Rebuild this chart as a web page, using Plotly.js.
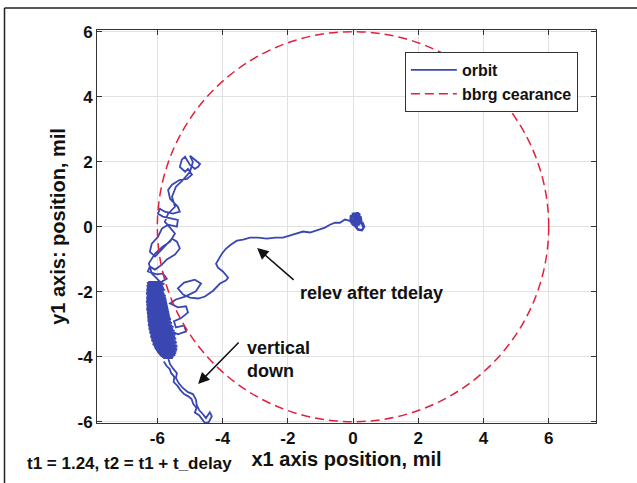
<!DOCTYPE html>
<html>
<head>
<meta charset="utf-8">
<script src="https://cdn.plot.ly/plotly-3.0.1.min.js"></script>
<style>
  html, body { margin: 0; padding: 0; background: #ffffff; }
  #chart { width: 637px; height: 483px; }
</style>
</head>
<body>
<div id="chart"></div>
<script>
// ---- data (x1, y1 positions in mil) ----
const centerPts = [[-0.04,0.40],[0.16,0.42],[0.22,0.36],[-0.07,0.34],[-0.08,0.28],[0.24,0.30],[0.25,0.24],[-0.08,0.22],[-0.07,0.16],[0.24,0.18],[0.22,0.12],[-0.05,0.10],[0.00,0.05],[0.18,0.06],[0.00,0.35],[0.12,0.42],[0.22,0.30],[0.18,0.10],[0.02,0.05],[-0.08,0.20],[0.00,0.40],[0.15,0.38],[0.24,0.20],[0.10,0.04],[-0.05,0.12],[0.05,0.30],[0.20,0.36],[0.20,0.12],[0.05,0.15],[0.10,0.30],[0.25,0.25],[0.28,0.05],[0.32,-0.05],[0.25,-0.10],[0.12,-0.06],[0.15,0.08],[0.30,0.12],[0.35,0.00],[0.28,-0.12],[0.15,-0.10],[0.05,0.02],[-0.10,0.18]];
const tailPts = [[-0.25,0.22],[-0.40,0.12],[-0.55,0.12],[-0.71,0.06],[-0.86,-0.03],[-1.07,-0.09],[-1.32,-0.18],[-1.53,-0.15],[-1.75,-0.22],[-1.96,-0.28],[-2.15,-0.34],[-2.39,-0.34],[-2.64,-0.37],[-2.91,-0.34],[-3.16,-0.34],[-3.37,-0.40],[-3.56,-0.43],[-3.74,-0.55],[-3.90,-0.68],[-4.02,-0.83],[-4.11,-0.98],[-4.20,-1.14],[-4.14,-1.26],[-3.99,-1.38],[-3.83,-1.57],[-3.90,-1.66],[-4.08,-1.75],[-4.29,-1.97]];
const loopPts = [[-4.54,-2.15],[-4.75,-2.21],[-5.00,-2.18],[-5.21,-2.09],[-5.37,-1.90],[-5.18,-1.72],[-4.85,-1.63],[-4.66,-1.75],[-4.82,-1.99],[-5.15,-2.15],[-5.43,-2.24],[-5.61,-2.36]];
const sideLoopPts = [[-5.37,-2.48],[-5.12,-2.45],[-5.06,-2.64],[-5.28,-2.82],[-5.49,-2.91],[-5.43,-3.10],[-5.18,-3.04],[-5.12,-3.22],[-5.37,-3.31],[-5.55,-3.22],[-5.67,-2.61],[-5.77,-2.15],[-5.92,-1.84]];
const upPts = [[-5.92,-1.69],[-6.17,-1.44],[-6.26,-1.13],[-6.07,-0.83],[-5.83,-0.61],[-5.61,-0.46],[-5.46,-0.21],[-5.61,-0.03],[-5.77,0.15],[-5.67,0.40],[-5.46,0.61],[-5.55,0.92],[-5.43,1.23],[-5.21,1.44],[-5.00,1.69],[-4.91,1.99],[-5.00,2.18]];
const downPts = [[-4.69,1.93],[-4.75,1.84],[-4.85,1.78],[-5.00,1.90],[-5.15,2.15],[-5.25,2.06],[-5.31,1.84],[-5.15,1.69],[-5.06,1.78],[-4.94,1.60],[-5.09,1.47],[-5.31,1.44],[-5.55,1.29],[-5.67,1.13],[-5.61,0.86],[-5.46,0.71],[-5.37,0.61],[-5.31,0.46],[-5.52,0.40],[-5.77,0.46],[-5.92,0.55],[-5.98,0.40],[-5.83,0.31],[-5.55,0.25],[-5.37,0.21],[-5.40,0.00],[-5.67,0.06],[-5.86,-0.06],[-5.98,-0.31],[-6.17,-0.52],[-6.23,-0.77],[-6.07,-0.92],[-5.92,-0.77],[-5.71,-0.55],[-5.55,-0.37],[-5.40,-0.46],[-5.31,-0.67],[-5.46,-0.86],[-5.71,-1.01],[-5.86,-1.17],[-6.07,-1.32],[-6.23,-1.23],[-6.29,-1.38],[-6.01,-1.47],[-5.83,-1.44],[-5.71,-1.60],[-5.86,-1.69]];
const clusterDownPts = [[-6.28,-1.70],[-5.82,-1.70],[-6.31,-1.76],[-5.78,-1.76],[-6.33,-1.82],[-5.85,-1.82],[-6.30,-1.88],[-5.80,-1.88],[-6.34,-1.94],[-5.76,-1.94],[-6.32,-2.00],[-5.82,-2.00],[-6.35,-2.06],[-5.78,-2.06],[-6.31,-2.12],[-5.74,-2.12],[-6.34,-2.18],[-5.80,-2.18],[-6.32,-2.24],[-5.72,-2.24],[-6.35,-2.30],[-5.77,-2.30],[-6.30,-2.36],[-5.70,-2.36],[-6.33,-2.42],[-5.74,-2.42],[-6.31,-2.48],[-5.68,-2.48],[-6.34,-2.54],[-5.72,-2.54],[-6.30,-2.60],[-5.66,-2.60],[-6.32,-2.66],[-5.70,-2.66],[-6.29,-2.72],[-5.62,-2.72],[-6.31,-2.78],[-5.66,-2.78],[-6.28,-2.84],[-5.58,-2.84],[-6.30,-2.90],[-5.62,-2.90],[-6.27,-2.96],[-5.55,-2.96],[-6.29,-3.02],[-5.58,-3.02],[-6.25,-3.08],[-5.50,-3.08],[-6.27,-3.14],[-5.55,-3.14],[-6.23,-3.20],[-5.47,-3.20],[-6.25,-3.26],[-5.52,-3.26],[-6.20,-3.32],[-5.44,-3.32],[-6.22,-3.38],[-5.48,-3.38],[-6.17,-3.44],[-5.42,-3.44],[-6.19,-3.50],[-5.46,-3.50],[-6.13,-3.56],[-5.40,-3.56],[-6.15,-3.62],[-5.44,-3.62],[-6.10,-3.68],[-5.38,-3.68],[-6.08,-3.74],[-5.42,-3.74],[-6.04,-3.80],[-5.40,-3.80],[-6.00,-3.86],[-5.44,-3.86],[-5.95,-3.92],[-5.46,-3.92],[-5.90,-3.98],[-5.50,-3.98],[-5.82,-4.04],[-5.55,-4.04]];
const clusterUpPts = [[-5.52,-4.01],[-5.86,-4.01],[-5.45,-3.95],[-5.93,-3.95],[-5.42,-3.89],[-5.98,-3.89],[-5.41,-3.83],[-6.02,-3.83],[-5.39,-3.77],[-6.06,-3.77],[-5.41,-3.71],[-6.09,-3.71],[-5.40,-3.65],[-6.12,-3.65],[-5.42,-3.59],[-6.14,-3.59],[-5.43,-3.53],[-6.16,-3.53],[-5.44,-3.47],[-6.18,-3.47],[-5.45,-3.41],[-6.20,-3.41],[-5.46,-3.35],[-6.21,-3.35],[-5.48,-3.29],[-6.22,-3.29],[-5.50,-3.23],[-6.24,-3.23],[-5.51,-3.17],[-6.26,-3.17],[-5.52,-3.11],[-6.26,-3.11],[-5.54,-3.05],[-6.28,-3.05],[-5.56,-2.99],[-6.28,-2.99],[-5.59,-2.93],[-6.29,-2.93],[-5.60,-2.87],[-6.30,-2.87],[-5.63,-2.81],[-6.30,-2.81],[-5.64,-2.75],[-6.31,-2.75],[-5.67,-2.69],[-6.31,-2.69],[-5.68,-2.63],[-6.32,-2.63],[-5.70,-2.57],[-6.33,-2.57],[-5.71,-2.51],[-6.33,-2.51],[-5.72,-2.45],[-6.33,-2.45],[-5.73,-2.39],[-6.34,-2.39],[-5.74,-2.33],[-6.34,-2.33],[-5.75,-2.27],[-6.33,-2.27],[-5.77,-2.21],[-6.34,-2.21],[-5.78,-2.15],[-6.33,-2.15],[-5.79,-2.09],[-6.33,-2.09],[-5.80,-2.03],[-6.34,-2.03],[-5.80,-1.97],[-6.33,-1.97],[-5.81,-1.91],[-6.32,-1.91],[-5.82,-1.85],[-6.32,-1.85],[-5.82,-1.79],[-6.31,-1.79],[-5.84,-1.73],[-6.29,-1.73]];
const lowerPts = [[-5.65,-4.10],[-5.61,-4.23],[-5.52,-4.36],[-5.40,-4.51],[-5.43,-4.66],[-5.34,-4.82],[-5.21,-4.97],[-5.06,-5.09],[-4.91,-5.15],[-4.82,-5.31],[-4.79,-5.49],[-4.72,-5.64],[-4.60,-5.77],[-4.51,-5.89],[-4.39,-5.71],[-4.33,-5.83],[-4.42,-6.01],[-4.54,-6.04],[-4.63,-5.92],[-4.72,-5.80],[-4.85,-5.72],[-4.80,-5.58],[-4.90,-5.45],[-4.95,-5.30],[-5.05,-5.22],[-5.18,-5.15],[-5.30,-5.02],[-5.38,-4.90],[-5.50,-4.78],[-5.48,-4.62],[-5.58,-4.50],[-5.62,-4.38],[-5.72,-4.28],[-5.80,-4.15]];

const clearanceRadius = 6;               // bbrg clearance circle, mil
const xTicks = [-6, -4, -2, 0, 2, 4, 6];
const xTickText = ['-6', '-4', '-2', '0', '2', '4', '6'];
const yTicks = [-6, -4, -2, 0, 2, 4, 6];
const yTickText = ['-6', '-4', '-2', '0', '2', '4', '6'];
const seriesNames = ['orbit', 'bbrg cearance'];

// ---- build the orbit trace ----
const orbitPts = [].concat(centerPts, tailPts, loopPts, sideLoopPts, upPts, downPts,
                           clusterDownPts, clusterUpPts, lowerPts);
const orbitX = orbitPts.map(p => p[0]);
const orbitY = orbitPts.map(p => p[1]);

const blue = '#3a47b3';
const red = '#e3203c';
const font = 'Liberation Sans, Arial, Helvetica, sans-serif';

const traces = [
  {
    x: orbitX, y: orbitY, type: 'scatter', mode: 'lines', name: seriesNames[0],
    line: { color: blue, width: 1.8 }, hoverinfo: 'skip'
  },
  {
    x: [null], y: [null], type: 'scatter', mode: 'lines', name: seriesNames[1],
    line: { color: red, width: 1.5, dash: '9px,5px' }, hoverinfo: 'skip'
  }
];

const axisCommon = {
  showgrid: true, gridcolor: '#e2e2e2', gridwidth: 1,
  zeroline: false, showline: true, linecolor: '#333333', linewidth: 1,
  mirror: 'ticks', ticks: 'inside', ticklen: 5, tickcolor: '#333333',
  tickfont: { family: font, size: 17, color: '#111111', weight: 'bold' },
  tickmode: 'array', fixedrange: true
};

// paper coordinates for the outer frame (left and top edges)
const frameL = (4.5 - 97) / 499, frameT = (423 - 8) / 393;

const layout = {
  width: 637, height: 483,
  margin: { l: 97, r: 41, t: 30, b: 60 },
  paper_bgcolor: '#ffffff', plot_bgcolor: '#ffffff',
  font: { family: font, size: 16, color: '#111111', weight: 'bold' },
  showlegend: true,
  legend: {
    x: 0.617, y: 0.944, xanchor: 'left', yanchor: 'top',
    bgcolor: '#ffffff', bordercolor: '#333333', borderwidth: 1,
    font: { family: font, size: 16, color: '#111111', weight: 'bold' },
    itemwidth: 46, tracegroupgap: 0
  },
  xaxis: Object.assign({}, axisCommon, {
    range: [-7.85, 7.45], tickvals: xTicks, ticktext: xTickText,
    title: { text: 'x1 axis position, mil', standoff: 3,
             font: { family: font, size: 20, color: '#111111', weight: 'bold' } }
  }),
  yaxis: Object.assign({}, axisCommon, {
    range: [-6.04, 6.05], tickvals: yTicks, ticktext: yTickText,
    title: { text: 'y1 axis: position, mil', standoff: 6,
             font: { family: font, size: 20, color: '#111111', weight: 'bold' } }
  }),
  shapes: [
    { type: 'circle', xref: 'x', yref: 'y',
      x0: -clearanceRadius, x1: clearanceRadius, y0: -clearanceRadius, y1: clearanceRadius,
      line: { color: red, width: 1.5, dash: '9px,5px' }, layer: 'above' },
    { type: 'line', xref: 'paper', yref: 'paper', x0: frameL, x1: frameL, y0: -0.2, y1: frameT,
      line: { color: '#222222', width: 1.5 } },
    { type: 'line', xref: 'paper', yref: 'paper', x0: frameL, x1: 1.2, y0: frameT, y1: frameT,
      line: { color: '#222222', width: 1.5 } }
  ],
  annotations: [
    { x: -2.94, y: -0.66, xref: 'x', yref: 'y', text: '', showarrow: true,
      ax: 38, ay: 33, arrowhead: 2, arrowsize: 1.5, arrowwidth: 1.5, arrowcolor: '#111111' },
    { x: 0.58, y: -2.03, xref: 'x', yref: 'y', text: 'relev after tdelay', showarrow: false,
      xanchor: 'center', yanchor: 'middle',
      font: { family: font, size: 18, color: '#111111', weight: 'bold' } },
    { x: -4.75, y: -4.84, xref: 'x', yref: 'y', text: '', showarrow: true,
      ax: 42, ay: -43, arrowhead: 2, arrowsize: 1.5, arrowwidth: 1.5, arrowcolor: '#111111' },
    { x: -3.31, y: -4.09, xref: 'x', yref: 'y', text: 'vertical<br>down', showarrow: false,
      xanchor: 'left', yanchor: 'middle', align: 'left',
      font: { family: font, size: 18, color: '#111111', weight: 'bold' } },
    { x: (25 - 97) / 499, y: (423 - 463) / 393, xref: 'paper', yref: 'paper',
      text: 't1 = 1.24, t2 = t1 + t_delay', showarrow: false,
      xanchor: 'left', yanchor: 'middle',
      font: { family: font, size: 17, color: '#111111', weight: 'bold' } }
  ]
};

Plotly.newPlot('chart', traces, layout, { displayModeBar: false, staticPlot: true });
</script>
</body>
</html>
